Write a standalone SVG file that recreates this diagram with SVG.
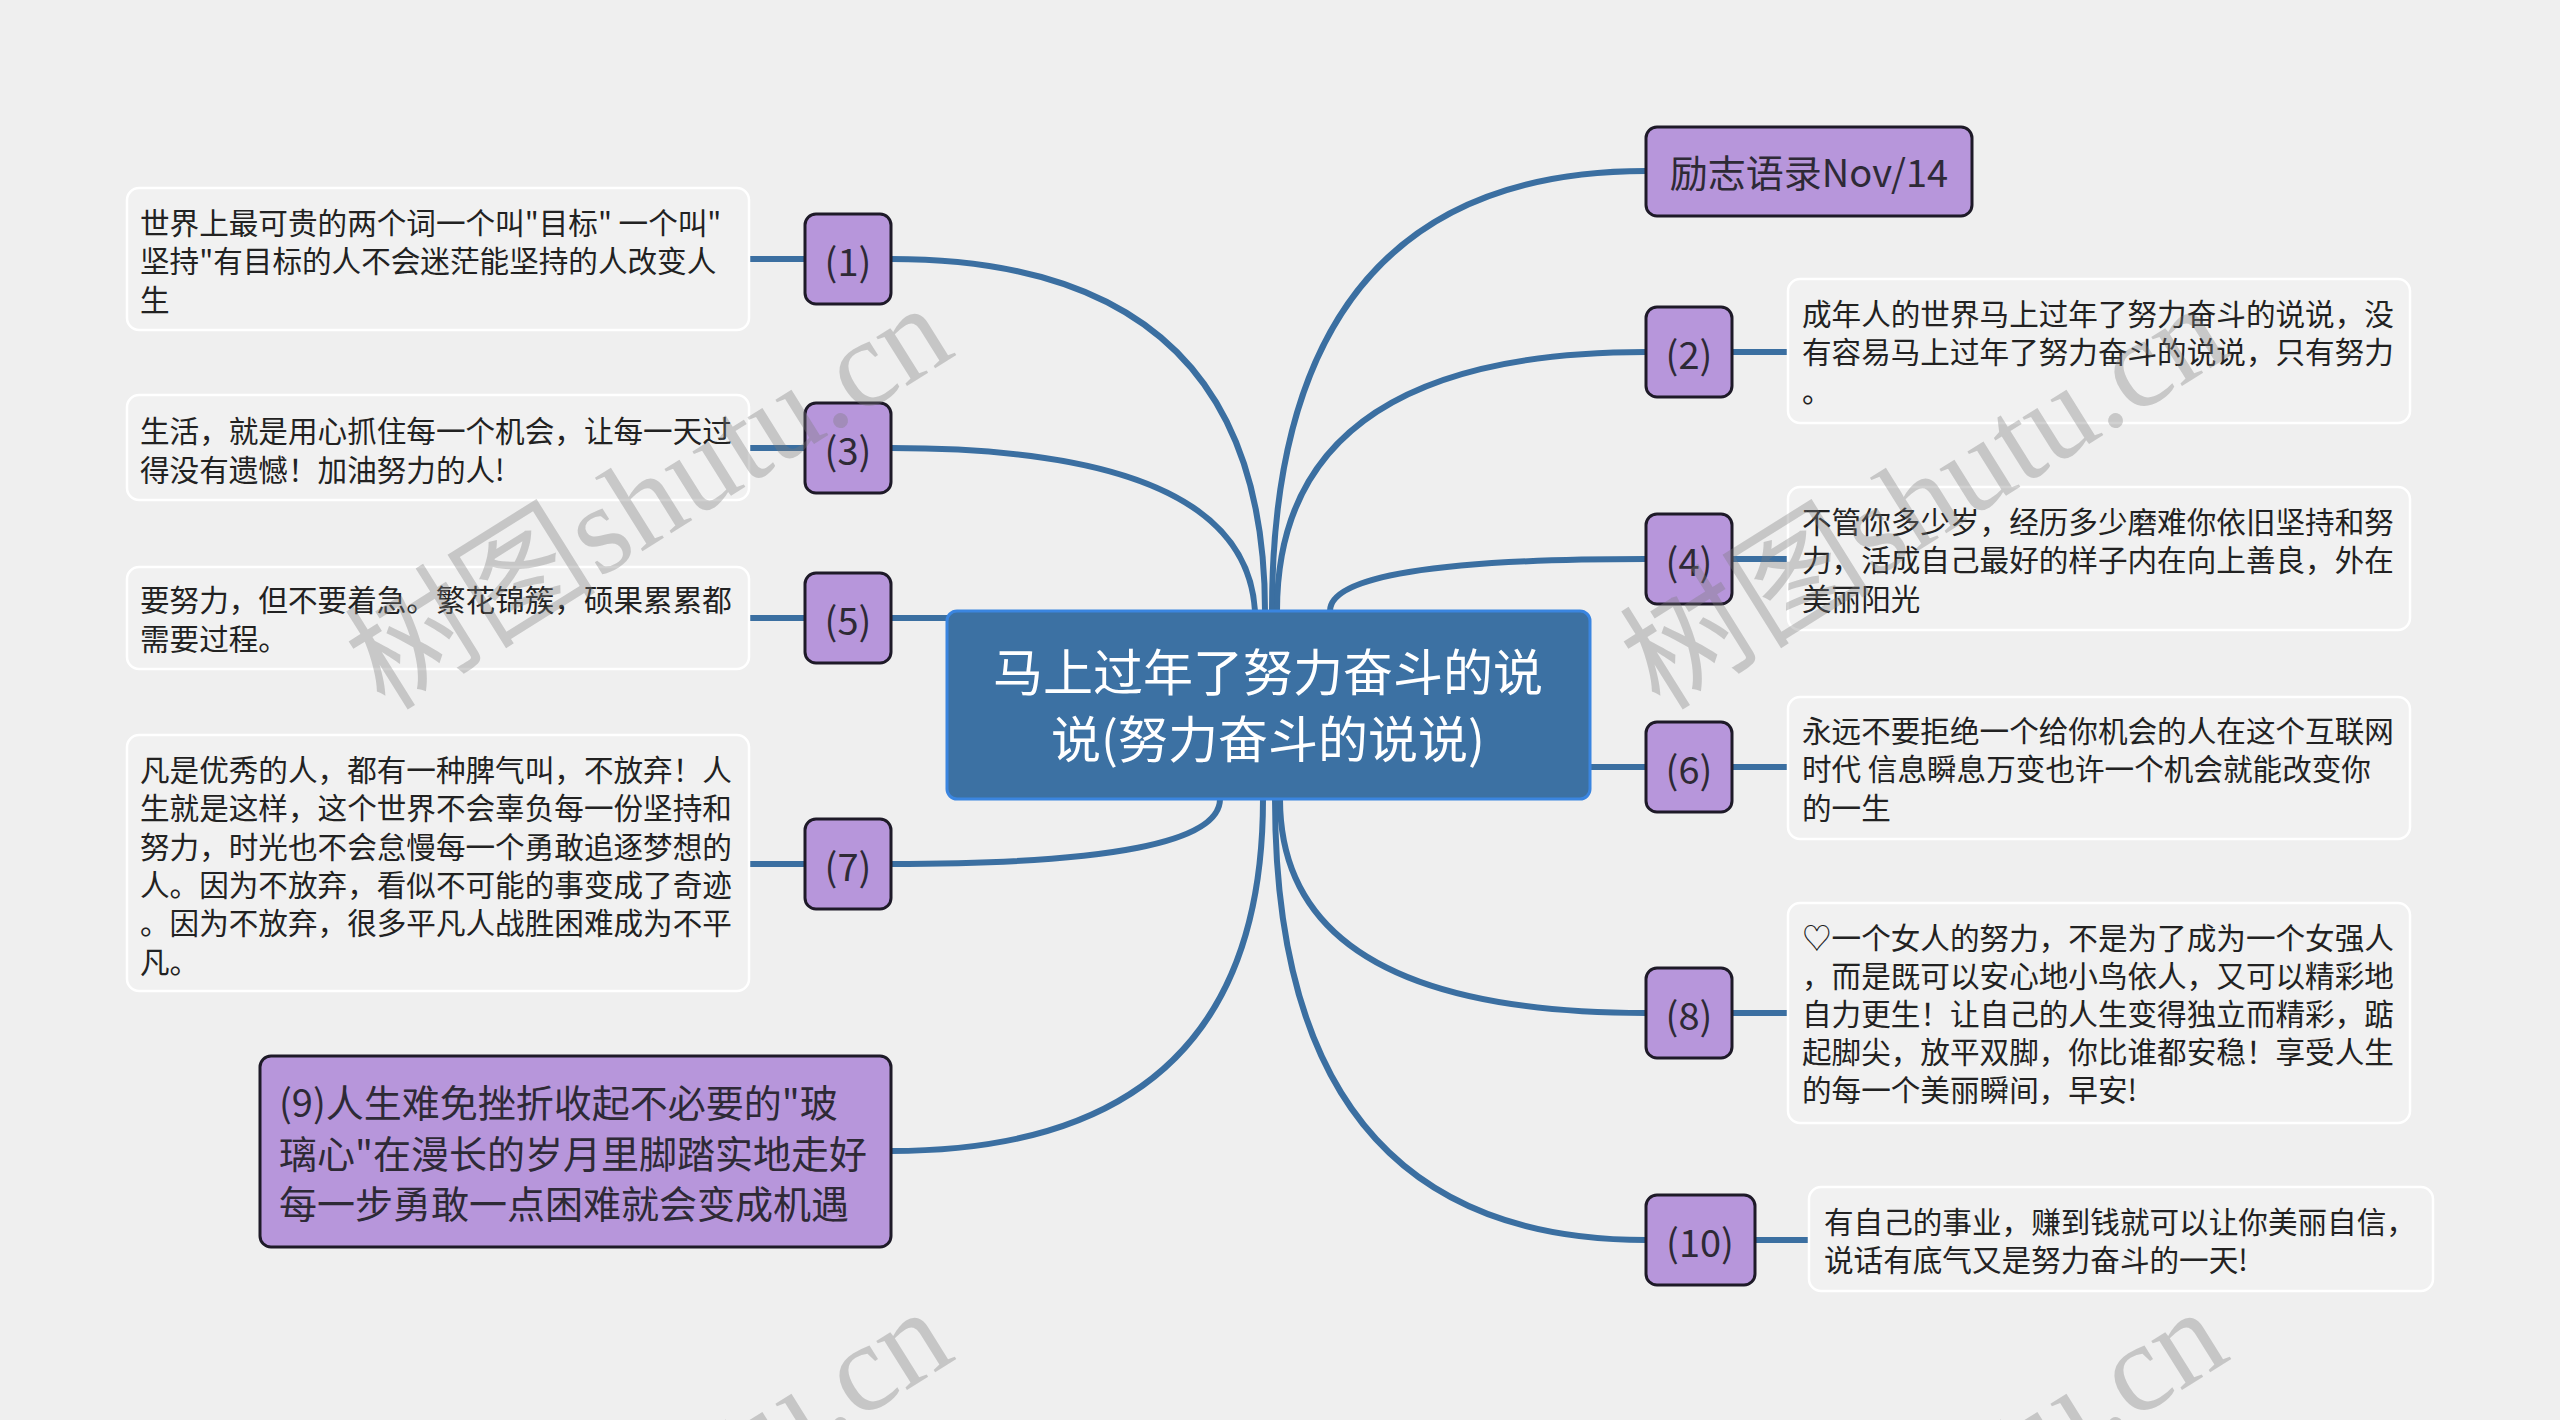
<svg xmlns="http://www.w3.org/2000/svg" width="2560" height="1420" viewBox="0 0 2560 1420">
<style>
.bg{fill:#efefef}
.conn path,.conn line{fill:none;stroke:#3b6fa1;stroke-width:6;stroke-linecap:round}
.center rect{fill:#3c71a3;stroke:#3a85e0;stroke-width:3}
.center text{fill:#ffffff;font-family:"Noto Sans CJK SC","Noto Sans",sans-serif;font-size:50px;text-anchor:middle;dominant-baseline:central}
.pn rect{fill:#b796db;stroke:#1e1a28;stroke-width:3}
.pn text{fill:#2e2a36;font-family:"Noto Sans CJK SC","Noto Sans",sans-serif;font-size:38px;text-anchor:middle;dominant-baseline:central}
.pn text.l{text-anchor:start}
.tb rect{fill:#f1f1f1;stroke:#ffffff;stroke-width:2.5}
.tb text{fill:#222222;font-family:"Noto Sans CJK SC","Noto Sans",sans-serif;font-size:29.6px;dominant-baseline:central}
.wm{fill:#7a7a7a;fill-opacity:0.35;font-family:"Liberation Serif","Noto Sans CJK SC",serif;font-size:126px}
</style>
<rect class="bg" x="0" y="0" width="2560" height="1420"/>

<g id="connectors" class="conn">
<path d="M891,259 Q1265,259 1265,611"/>
<path d="M891,448 Q1245,448 1255,611"/>
<line x1="891" y1="618" x2="947" y2="618"/>
<path d="M891,864 Q1220,864 1220,799"/>
<path d="M891,1151 Q1263,1151 1263,799"/>
<path d="M1646,171 Q1272,171 1272,611"/>
<path d="M1646,352 Q1277,352 1277,611"/>
<path d="M1646,559 Q1330,559 1330,611"/>
<line x1="1590" y1="767" x2="1646" y2="767"/>
<path d="M1646,1013 Q1280,1013 1280,799"/>
<path d="M1646,1240 Q1275,1240 1275,799"/>
<line x1="749" y1="259" x2="805" y2="259"/>
<line x1="749" y1="448" x2="805" y2="448"/>
<line x1="749" y1="618" x2="805" y2="618"/>
<line x1="749" y1="864" x2="805" y2="864"/>
<line x1="1732" y1="352" x2="1788" y2="352"/>
<line x1="1732" y1="559" x2="1788" y2="559"/>
<line x1="1732" y1="767" x2="1788" y2="767"/>
<line x1="1732" y1="1013" x2="1788" y2="1013"/>
<line x1="1755" y1="1240" x2="1809" y2="1240"/>
</g>

<g id="center" class="center">
<rect x="947" y="611" width="643" height="188" rx="10"/>
<text x="1268" y="669">马上过年了努力奋斗的说</text>
<text x="1268" y="736">说(努力奋斗的说说)</text>
</g>

<g id="n1" class="pn"><rect x="805" y="214" width="86" height="90" rx="11"/><text x="848" y="259">(1)</text></g>
<g id="n3" class="pn"><rect x="805" y="403" width="86" height="90" rx="11"/><text x="848" y="448">(3)</text></g>
<g id="n5" class="pn"><rect x="805" y="573" width="86" height="90" rx="11"/><text x="848" y="618">(5)</text></g>
<g id="n7" class="pn"><rect x="805" y="819" width="86" height="90" rx="11"/><text x="848" y="864">(7)</text></g>
<g id="n9" class="pn"><rect x="260" y="1056" width="631" height="191" rx="11"/>
<text class="l" x="279" y="1100">(9)人生难免挫折收起不必要的"玻</text>
<text class="l" x="279" y="1151">璃心"在漫长的岁月里脚踏实地走好</text>
<text class="l" x="279" y="1201">每一步勇敢一点困难就会变成机遇</text>
</g>
<g id="n0" class="pn"><rect x="1646" y="127" width="326" height="89" rx="11"/><text x="1809" y="170">励志语录Nov/14</text></g>
<g id="n2" class="pn"><rect x="1646" y="307" width="86" height="90" rx="11"/><text x="1689" y="352">(2)</text></g>
<g id="n4" class="pn"><rect x="1646" y="514" width="86" height="90" rx="11"/><text x="1689" y="559">(4)</text></g>
<g id="n6" class="pn"><rect x="1646" y="722" width="86" height="90" rx="11"/><text x="1689" y="767">(6)</text></g>
<g id="n8" class="pn"><rect x="1646" y="968" width="86" height="90" rx="11"/><text x="1689" y="1013">(8)</text></g>
<g id="n10" class="pn"><rect x="1646" y="1195" width="109" height="90" rx="11"/><text x="1700" y="1240">(10)</text></g>

<g id="t1" class="tb"><rect x="127" y="188" width="622" height="142" rx="12"/>
<text x="140" y="221">世界上最可贵的两个词一个叫"目标" 一个叫"</text>
<text x="140" y="259">坚持"有目标的人不会迷茫能坚持的人改变人</text>
<text x="140" y="298">生</text>
</g>
<g id="t3" class="tb"><rect x="127" y="395" width="622" height="105" rx="12"/>
<text x="140" y="429">生活，就是用心抓住每一个机会，让每一天过</text>
<text x="140" y="468">得没有遗憾！加油努力的人!</text>
</g>
<g id="t5" class="tb"><rect x="127" y="567" width="622" height="102" rx="12"/>
<text x="140" y="598">要努力，但不要着急。繁花锦簇，硕果累累都</text>
<text x="140" y="637">需要过程。</text>
</g>
<g id="t7" class="tb"><rect x="127" y="735" width="622" height="256" rx="12"/>
<text x="140" y="768">凡是优秀的人，都有一种脾气叫，不放弃！人</text>
<text x="140" y="806">生就是这样，这个世界不会辜负每一份坚持和</text>
<text x="140" y="845">努力，时光也不会怠慢每一个勇敢追逐梦想的</text>
<text x="140" y="883">人。因为不放弃，看似不可能的事变成了奇迹</text>
<text x="140" y="921">。因为不放弃，很多平凡人战胜困难成为不平</text>
<text x="140" y="960">凡。</text>
</g>
<g id="t2" class="tb"><rect x="1788" y="279" width="622" height="144" rx="12"/>
<text x="1802" y="312">成年人的世界马上过年了努力奋斗的说说，没</text>
<text x="1802" y="350">有容易马上过年了努力奋斗的说说，只有努力</text>
<text x="1802" y="389">。</text>
</g>
<g id="t4" class="tb"><rect x="1788" y="487" width="622" height="143" rx="12"/>
<text x="1802" y="520">不管你多少岁，经历多少磨难你依旧坚持和努</text>
<text x="1802" y="558">力，活成自己最好的样子内在向上善良，外在</text>
<text x="1802" y="597">美丽阳光</text>
</g>
<g id="t6" class="tb"><rect x="1788" y="697" width="622" height="142" rx="12"/>
<text x="1802" y="729">永远不要拒绝一个给你机会的人在这个互联网</text>
<text x="1802" y="767">时代 信息瞬息万变也许一个机会就能改变你</text>
<text x="1802" y="806">的一生</text>
</g>
<g id="t8" class="tb"><rect x="1788" y="903" width="622" height="220" rx="12"/>
<text x="1802" y="936">♡一个女人的努力，不是为了成为一个女强人</text>
<text x="1802" y="974">，而是既可以安心地小鸟依人，又可以精彩地</text>
<text x="1802" y="1012">自力更生！让自己的人生变得独立而精彩，踮</text>
<text x="1802" y="1050">起脚尖，放平双脚，你比谁都安稳！享受人生</text>
<text x="1802" y="1088">的每一个美丽瞬间，早安!</text>
</g>
<g id="t10" class="tb"><rect x="1809" y="1187" width="624" height="104" rx="12"/>
<text x="1824" y="1220">有自己的事业，赚到钱就可以让你美丽自信，</text>
<text x="1824" y="1258">说话有底气又是努力奋斗的一天!</text>
</g>

<g id="watermarks">
<text class="wm" x="385" y="712" transform="rotate(-32 385 712)">树图shutu.cn</text>
<text class="wm" x="1660" y="712" transform="rotate(-32 1660 712)">树图shutu.cn</text>
<text class="wm" x="385" y="1716" transform="rotate(-32 385 1716)">树图shutu.cn</text>
<text class="wm" x="1660" y="1716" transform="rotate(-32 1660 1716)">树图shutu.cn</text>
</g>
</svg>
